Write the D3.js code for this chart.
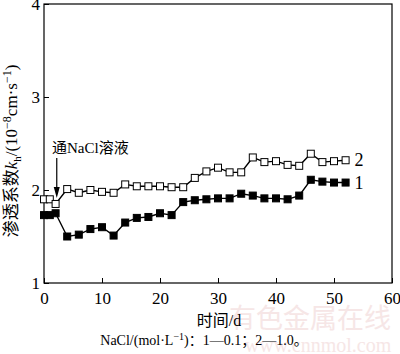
<!DOCTYPE html>
<html>
<head>
<meta charset="utf-8">
<script src="https://cdn.jsdelivr.net/npm/d3@7"></script>
<style>
  body { margin: 0; background: #fff; }
  svg text { font-family: "Liberation Serif", "Noto Sans CJK SC", serif; fill: #000; }
</style>
</head>
<body>
<svg width="400" height="354"></svg>
<script>
const days = [0, 1, 2, 4, 6, 8, 10, 12, 14, 16, 18, 20, 22, 24, 26, 28, 30, 32, 34, 36, 38, 40, 42, 44, 46, 48, 50, 52];
const series1 = [1.73, 1.73, 1.75, 1.50, 1.52, 1.58, 1.60, 1.51, 1.65, 1.70, 1.71, 1.75, 1.73, 1.87, 1.89, 1.90, 1.91, 1.91, 1.96, 1.94, 1.91, 1.91, 1.90, 1.94, 2.11, 2.09, 2.08, 2.08];
const series2 = [1.90, 1.90, 1.85, 2.01, 1.97, 2.00, 1.98, 1.97, 2.06, 2.04, 2.04, 2.04, 2.03, 2.03, 2.13, 2.20, 2.24, 2.19, 2.19, 2.35, 2.30, 2.31, 2.27, 2.26, 2.39, 2.30, 2.31, 2.32];
const xTicks = [0, 10, 20, 30, 40, 50, 60];
const yTicks = [1, 2, 3, 4];

const svg = d3.select('svg');
const margin = { top: 4, right: 8, bottom: 71, left: 44 };
const width = +svg.attr('width');
const height = +svg.attr('height');
const innerWidth = width - margin.left - margin.right;
const innerHeight = height - margin.top - margin.bottom;

const xScale = d3.scaleLinear().domain([0, 60]).range([0, innerWidth]);
const yScale = d3.scaleLinear().domain([1, 4]).range([innerHeight, 0]);

// faint watermark of the source site
svg.append('text')
  .attr('x', 310).attr('y', 328)
  .attr('text-anchor', 'middle')
  .style('font-size', '27px')
  .style('fill', '#f6e6e6')
  .text('有色金属在线');
svg.append('text')
  .attr('x', 318).attr('y', 352)
  .attr('text-anchor', 'middle')
  .style('font-size', '20px')
  .style('fill', '#f6e6e6')
  .text('www.cnnmol.com');

const g = svg.append('g')
  .attr('transform', `translate(${margin.left},${margin.top})`);

const xAxisG = g.append('g')
  .attr('transform', `translate(0,${innerHeight})`)
  .call(d3.axisBottom(xScale).tickValues(xTicks).tickFormat(d3.format('d')).tickSize(-5).tickPadding(9));
const yAxisG = g.append('g')
  .call(d3.axisLeft(yScale).tickValues(yTicks).tickFormat(d3.format('d')).tickSize(-5).tickPadding(4));
[xAxisG, yAxisG].forEach(a => {
  a.select('.domain').remove();
  a.selectAll('line').attr('stroke', '#000');
  a.selectAll('text').style('font-size', '17px').attr('fill', '#000');
});
yAxisG.selectAll('text').attr('x', -4).attr('dy', '0.35em');

g.append('rect')
  .attr('width', innerWidth).attr('height', innerHeight)
  .attr('fill', 'none').attr('stroke', '#000').attr('stroke-width', 1.2);

const line = d3.line()
  .x((d, i) => xScale(days[i]))
  .y(d => yScale(d));

const drawSeries = (values, fill) => {
  g.append('path')
    .datum(values)
    .attr('d', line)
    .attr('fill', 'none')
    .attr('stroke', '#000')
    .attr('stroke-width', 1.4);
  g.append('g').selectAll('rect').data(values)
    .enter().append('rect')
      .attr('x', (d, i) => xScale(days[i]) - 3.5)
      .attr('y', d => yScale(d) - 3.5)
      .attr('width', 7).attr('height', 7)
      .attr('fill', fill)
      .attr('stroke', '#000')
      .attr('stroke-width', 1);
};
drawSeries(series1, '#000');
drawSeries(series2, '#fff');

// series labels
g.append('text')
  .attr('x', xScale(52) + 9).attr('y', yScale(series2[series2.length - 1]) + 6)
  .style('font-size', '18px').text('2');
g.append('text')
  .attr('x', xScale(52) + 9).attr('y', yScale(series1[series1.length - 1]) + 6)
  .style('font-size', '18px').text('1');

// annotation arrow
const ax = xScale(2.2);
g.append('line')
  .attr('x1', ax).attr('x2', ax)
  .attr('y1', 154).attr('y2', 188)
  .attr('stroke', '#000').attr('stroke-width', 1.2);
g.append('path')
  .attr('d', `M${ax - 3},${183} L${ax + 3},${183} L${ax},${194} Z`)
  .attr('fill', '#000');
g.append('text')
  .attr('x', 8).attr('y', 149)
  .style('font-size', '15px')
  .text('通NaCl溶液');

// axis titles
const yTitle = svg.append('text')
  .attr('transform', 'translate(17,151) rotate(-90)')
  .attr('text-anchor', 'middle')
  .style('font-size', '17px');
yTitle.append('tspan').text('渗透系数');
yTitle.append('tspan').style('font-style', 'italic').text('k');
yTitle.append('tspan').attr('dy', 4).style('font-size', '11px').text('h');
yTitle.append('tspan').attr('dy', -4).text('/(10');
yTitle.append('tspan').attr('dy', -6).style('font-size', '12px').text('−8');
yTitle.append('tspan').attr('dy', 6).text('cm·s');
yTitle.append('tspan').attr('dy', -6).style('font-size', '12px').text('−1');
yTitle.append('tspan').attr('dy', 6).text(')');

svg.append('text')
  .attr('x', 219).attr('y', 326)
  .attr('text-anchor', 'middle')
  .style('font-size', '16px')
  .text('时间/d');

const note = svg.append('text')
  .attr('x', 204).attr('y', 345)
  .attr('text-anchor', 'middle')
  .style('font-size', '14px');
note.append('tspan').text('NaCl/(mol·L');
note.append('tspan').attr('dy', -5).style('font-size', '10px').text('−1');
note.append('tspan').attr('dy', 5).text(')：1—0.1；2—1.0。');
</script>
</body>
</html>
